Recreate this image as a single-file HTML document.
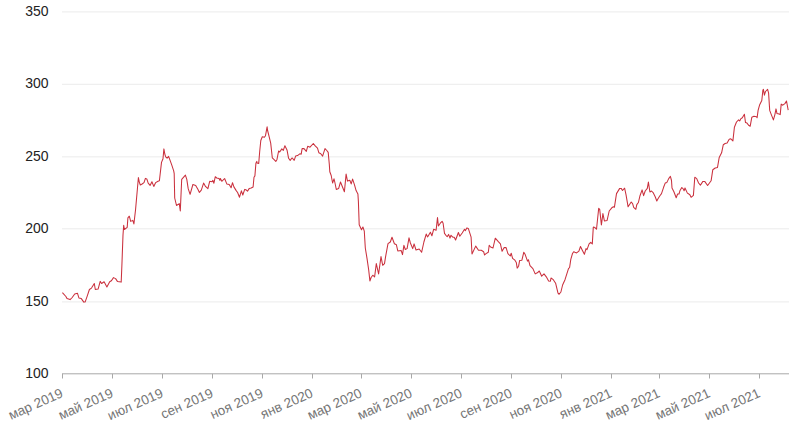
<!DOCTYPE html>
<html><head><meta charset="utf-8"><style>
html,body{margin:0;padding:0;background:#fff;}
body{width:800px;height:429px;overflow:hidden;}
svg{display:block;}
.yl text{font-family:"Liberation Sans",Arial,sans-serif;font-size:14px;fill:#222222;}
.xl text{font-family:"Liberation Sans",Arial,sans-serif;font-size:13.5px;fill:#757575;}
</style></head><body>
<svg width="800" height="429" viewBox="0 0 800 429">
<rect width="800" height="429" fill="#ffffff"/>
<g><line x1="62" y1="11.90" x2="789" y2="11.90" stroke="#ebebeb" stroke-width="1"/>
<line x1="62" y1="84.30" x2="789" y2="84.30" stroke="#ebebeb" stroke-width="1"/>
<line x1="62" y1="156.85" x2="789" y2="156.85" stroke="#ebebeb" stroke-width="1"/>
<line x1="62" y1="228.80" x2="789" y2="228.80" stroke="#ebebeb" stroke-width="1"/>
<line x1="62" y1="301.90" x2="789" y2="301.90" stroke="#ebebeb" stroke-width="1"/>
</g>
<g><line x1="62" y1="373.80" x2="789" y2="373.80" stroke="#a8a8a8" stroke-width="1"/>
<line x1="62.5" y1="373.80" x2="62.5" y2="378.5" stroke="#a8a8a8" stroke-width="1"/>
<line x1="112.5" y1="373.80" x2="112.5" y2="378.5" stroke="#a8a8a8" stroke-width="1"/>
<line x1="162.5" y1="373.80" x2="162.5" y2="378.5" stroke="#a8a8a8" stroke-width="1"/>
<line x1="212.5" y1="373.80" x2="212.5" y2="378.5" stroke="#a8a8a8" stroke-width="1"/>
<line x1="262.5" y1="373.80" x2="262.5" y2="378.5" stroke="#a8a8a8" stroke-width="1"/>
<line x1="312.5" y1="373.80" x2="312.5" y2="378.5" stroke="#a8a8a8" stroke-width="1"/>
<line x1="361.5" y1="373.80" x2="361.5" y2="378.5" stroke="#a8a8a8" stroke-width="1"/>
<line x1="411.5" y1="373.80" x2="411.5" y2="378.5" stroke="#a8a8a8" stroke-width="1"/>
<line x1="461.5" y1="373.80" x2="461.5" y2="378.5" stroke="#a8a8a8" stroke-width="1"/>
<line x1="511.5" y1="373.80" x2="511.5" y2="378.5" stroke="#a8a8a8" stroke-width="1"/>
<line x1="561.5" y1="373.80" x2="561.5" y2="378.5" stroke="#a8a8a8" stroke-width="1"/>
<line x1="611.5" y1="373.80" x2="611.5" y2="378.5" stroke="#a8a8a8" stroke-width="1"/>
<line x1="659.5" y1="373.80" x2="659.5" y2="378.5" stroke="#a8a8a8" stroke-width="1"/>
<line x1="709.5" y1="373.80" x2="709.5" y2="378.5" stroke="#a8a8a8" stroke-width="1"/>
<line x1="759.5" y1="373.80" x2="759.5" y2="378.5" stroke="#a8a8a8" stroke-width="1"/>
</g>
<g class="yl"><text x="48.5" y="16.00" text-anchor="end">350</text>
<text x="48.5" y="88.44" text-anchor="end">300</text>
<text x="48.5" y="160.88" text-anchor="end">250</text>
<text x="48.5" y="233.32" text-anchor="end">200</text>
<text x="48.5" y="305.76" text-anchor="end">150</text>
<text x="48.5" y="378.20" text-anchor="end">100</text>
</g>
<g class="xl"><text x="64.0" y="396.4" transform="rotate(-24 64.0 396.4)" text-anchor="end">мар 2019</text>
<text x="114.0" y="396.4" transform="rotate(-24 114.0 396.4)" text-anchor="end">май 2019</text>
<text x="164.0" y="396.4" transform="rotate(-24 164.0 396.4)" text-anchor="end">июл 2019</text>
<text x="214.0" y="396.4" transform="rotate(-24 214.0 396.4)" text-anchor="end">сен 2019</text>
<text x="264.0" y="396.4" transform="rotate(-24 264.0 396.4)" text-anchor="end">ноя 2019</text>
<text x="314.0" y="396.4" transform="rotate(-24 314.0 396.4)" text-anchor="end">янв 2020</text>
<text x="363.0" y="396.4" transform="rotate(-24 363.0 396.4)" text-anchor="end">мар 2020</text>
<text x="413.0" y="396.4" transform="rotate(-24 413.0 396.4)" text-anchor="end">май 2020</text>
<text x="463.0" y="396.4" transform="rotate(-24 463.0 396.4)" text-anchor="end">июл 2020</text>
<text x="513.0" y="396.4" transform="rotate(-24 513.0 396.4)" text-anchor="end">сен 2020</text>
<text x="563.0" y="396.4" transform="rotate(-24 563.0 396.4)" text-anchor="end">ноя 2020</text>
<text x="613.0" y="396.4" transform="rotate(-24 613.0 396.4)" text-anchor="end">янв 2021</text>
<text x="661.0" y="396.4" transform="rotate(-24 661.0 396.4)" text-anchor="end">мар 2021</text>
<text x="711.0" y="396.4" transform="rotate(-24 711.0 396.4)" text-anchor="end">май 2021</text>
<text x="761.0" y="396.4" transform="rotate(-24 761.0 396.4)" text-anchor="end">июл 2021</text>
</g>
<path d="M62.4,292.6 L65.9,296.5 L67.0,298.6 L70.1,299.6 L72.2,297.5 L74.7,294.0 L77.5,293.3 L78.9,297.9 L81.3,298.6 L83.8,302.1 L85.2,301.9 L87.3,295.8 L89.4,289.5 L91.5,288.1 L94.3,283.5 L95.3,289.5 L98.1,289.1 L100.2,281.4 L101.6,283.5 L104.1,281.8 L106.9,287.0 L109.7,281.8 L111.4,280.7 L113.5,277.6 L115.6,278.6 L117.4,281.4 L121.2,282.1 L121.9,265.0 L123.0,235.0 L123.7,225.3 L124.4,229.5 L127.2,227.4 L127.9,217.9 L129.3,216.2 L130.7,221.4 L132.8,220.4 L133.9,223.9 L135.6,209.2 L138.4,177.5 L139.3,182.1 L140.3,185.0 L142.1,184.0 L144.0,182.6 L145.4,178.4 L146.8,178.9 L148.2,183.1 L150.1,185.4 L151.9,181.7 L153.8,186.4 L155.7,182.6 L158.0,181.2 L159.4,180.7 L161.5,162.4 L163.0,158.7 L163.9,148.9 L164.8,154.0 L165.7,156.8 L167.1,158.2 L168.6,156.4 L170.0,160.1 L171.8,165.2 L173.7,170.8 L174.2,173.7 L174.7,198.0 L176.5,205.5 L179.3,203.6 L180.3,211.0 L181.7,179.3 L185.4,175.1 L186.8,179.3 L188.2,188.7 L190.1,194.3 L192.9,184.5 L195.7,185.4 L198.0,189.6 L199.4,192.4 L201.3,190.1 L203.6,183.1 L205.5,186.4 L207.9,188.7 L209.7,181.3 L212.0,181.8 L212.9,180.4 L213.9,183.2 L215.3,176.7 L216.7,178.0 L219.0,178.5 L219.9,180.4 L220.4,178.5 L221.8,181.3 L224.6,178.5 L226.9,184.1 L229.2,184.6 L231.1,187.8 L232.5,182.7 L233.9,186.9 L236.2,190.6 L237.6,192.5 L239.5,197.2 L241.4,190.8 L242.8,195.0 L244.7,189.4 L246.1,189.8 L247.5,191.2 L249.3,188.4 L251.2,188.0 L253.1,187.0 L254.0,177.2 L254.9,175.9 L255.9,163.3 L256.8,161.4 L257.1,163.0 L258.7,163.5 L259.7,151.5 L260.8,140.5 L262.3,136.8 L264.4,137.3 L265.5,135.7 L267.1,126.8 L267.6,130.5 L269.2,136.8 L270.7,143.1 L272.3,157.8 L273.9,159.4 L275.8,161.4 L277.0,159.4 L278.6,151.0 L279.7,152.0 L281.8,148.9 L283.3,150.4 L284.9,145.7 L287.0,149.9 L288.6,158.3 L290.2,160.4 L291.7,158.3 L292.3,158.0 L294.2,160.3 L295.6,156.1 L297.5,155.6 L299.8,153.8 L301.2,154.2 L302.1,148.6 L304.0,148.6 L306.3,151.4 L307.7,146.3 L310.0,147.2 L313.3,143.5 L315.2,145.9 L317.5,148.2 L318.9,152.8 L320.8,153.8 L322.6,156.1 L325.0,148.6 L326.8,150.5 L328.2,152.4 L329.3,164.3 L329.8,171.8 L331.2,175.5 L332.6,183.0 L334.0,178.8 L334.9,182.5 L336.3,189.5 L338.6,188.6 L340.5,182.0 L342.4,186.7 L344.4,191.8 L346.1,174.1 L347.5,181.1 L349.8,180.2 L351.2,183.9 L352.6,179.1 L354.5,184.8 L356.1,190.6 L357.9,193.9 L358.4,201.8 L359.2,224.7 L361.5,229.8 L362.9,227.0 L364.3,231.2 L365.3,248.0 L367.0,258.3 L368.7,270.0 L369.9,281.0 L371.1,277.5 L372.8,275.2 L374.6,277.0 L376.3,263.6 L378.6,274.0 L381.0,256.6 L382.7,265.3 L384.5,263.6 L385.6,256.6 L388.0,243.7 L390.3,242.0 L392.0,237.3 L394.4,243.7 L396.4,244.8 L397.8,250.9 L401.1,250.4 L402.5,254.6 L403.9,245.3 L405.3,249.5 L407.1,248.6 L409.0,237.8 L410.4,243.0 L412.7,248.6 L414.1,243.9 L416.0,250.0 L419.2,249.0 L421.6,252.3 L423.9,242.0 L426.2,234.1 L427.6,236.9 L430.4,232.2 L431.9,235.8 L433.7,229.2 L436.1,230.2 L437.5,217.6 L438.4,226.0 L440.3,223.2 L442.1,221.3 L443.1,223.2 L444.5,233.4 L445.9,235.3 L447.2,236.7 L448.6,234.4 L450.0,238.1 L451.0,235.3 L452.8,237.2 L454.2,237.2 L455.6,240.0 L457.0,236.2 L458.4,232.5 L459.8,236.2 L462.2,233.0 L464.5,229.2 L465.4,230.6 L466.9,227.9 L468.3,228.4 L471.1,237.2 L472.0,254.0 L475.7,246.1 L478.5,250.3 L481.3,250.3 L483.6,251.7 L484.6,255.0 L486.0,253.6 L488.3,252.2 L489.2,245.2 L490.6,247.0 L493.0,248.0 L495.3,238.2 L498.1,241.4 L500.4,243.8 L502.1,251.3 L504.2,247.6 L506.1,247.6 L507.9,253.6 L510.3,256.0 L511.2,253.2 L512.6,258.3 L514.9,260.2 L516.3,262.5 L517.2,268.1 L518.6,266.2 L519.6,260.6 L521.9,260.2 L523.8,252.2 L525.2,254.6 L527.5,261.1 L528.4,259.7 L530.0,265.7 L532.9,268.6 L535.2,273.9 L537.3,272.8 L539.3,271.0 L541.7,276.2 L544.0,273.9 L546.3,276.8 L548.6,280.9 L550.4,281.2 L551.0,278.0 L553.3,279.7 L555.6,283.2 L558.0,293.1 L559.1,294.3 L560.9,292.0 L562.6,285.0 L565.0,279.7 L568.5,268.6 L569.6,267.5 L570.8,259.3 L572.5,253.5 L573.7,251.7 L574.9,252.3 L576.6,252.9 L578.9,251.2 L580.5,246.5 L582.3,250.2 L584.4,254.3 L586.0,248.6 L587.0,249.6 L589.1,243.9 L590.7,242.3 L592.3,243.9 L593.3,227.1 L594.9,227.6 L596.5,229.2 L598.7,208.3 L599.7,209.4 L601.4,225.0 L602.9,213.6 L604.4,220.9 L607.1,220.4 L609.2,211.0 L611.8,207.8 L613.4,206.8 L614.4,207.3 L616.5,193.6 L619.7,188.4 L621.2,188.4 L622.5,190.5 L624.6,188.2 L626.0,194.7 L628.1,206.8 L631.2,202.0 L632.6,203.6 L633.7,207.3 L635.8,209.3 L636.8,204.6 L638.4,202.5 L640.0,195.7 L642.1,189.9 L643.6,195.7 L645.2,191.0 L647.3,188.4 L648.4,182.1 L649.9,192.0 L651.5,191.0 L653.1,192.6 L655.2,196.8 L656.8,201.0 L658.3,198.3 L659.9,195.7 L661.5,193.6 L663.6,187.3 L665.2,183.1 L666.9,182.4 L668.7,178.6 L670.4,176.3 L671.5,180.5 L672.0,188.0 L673.9,191.7 L676.2,197.8 L677.6,194.0 L679.0,194.0 L679.9,190.8 L681.8,187.5 L683.2,188.9 L684.1,190.8 L685.0,188.0 L687.4,193.1 L688.8,194.0 L689.7,194.5 L691.1,197.3 L693.4,195.4 L694.8,177.2 L696.7,178.6 L698.6,183.0 L700.4,185.2 L702.9,181.4 L704.7,181.4 L707.6,185.5 L711.1,180.8 L712.8,169.7 L715.2,168.0 L717.5,167.4 L719.2,157.5 L721.6,152.8 L723.3,144.7 L725.1,143.5 L727.1,143.0 L729.2,139.3 L730.8,138.8 L732.9,140.9 L734.4,127.3 L736.5,122.0 L738.6,119.9 L739.7,121.0 L740.7,118.9 L742.3,117.8 L744.4,114.2 L745.5,122.6 L747.0,123.1 L748.6,125.2 L750.2,126.2 L751.8,117.3 L753.9,116.3 L756.5,116.8 L757.1,117.8 L758.1,110.4 L759.7,104.7 L761.8,100.5 L762.9,90.0 L763.4,89.4 L764.4,95.2 L765.5,91.5 L767.6,89.4 L768.6,93.1 L769.7,110.4 L771.3,114.6 L773.4,119.9 L774.9,114.6 L776.0,108.9 L777.0,113.6 L779.1,114.1 L780.2,114.6 L781.2,104.1 L782.8,105.2 L784.9,103.6 L786.5,101.0 L788.2,110.2" fill="none" stroke="#ca303d" stroke-width="1.05" stroke-linejoin="round"/>
</svg>
</body></html>
